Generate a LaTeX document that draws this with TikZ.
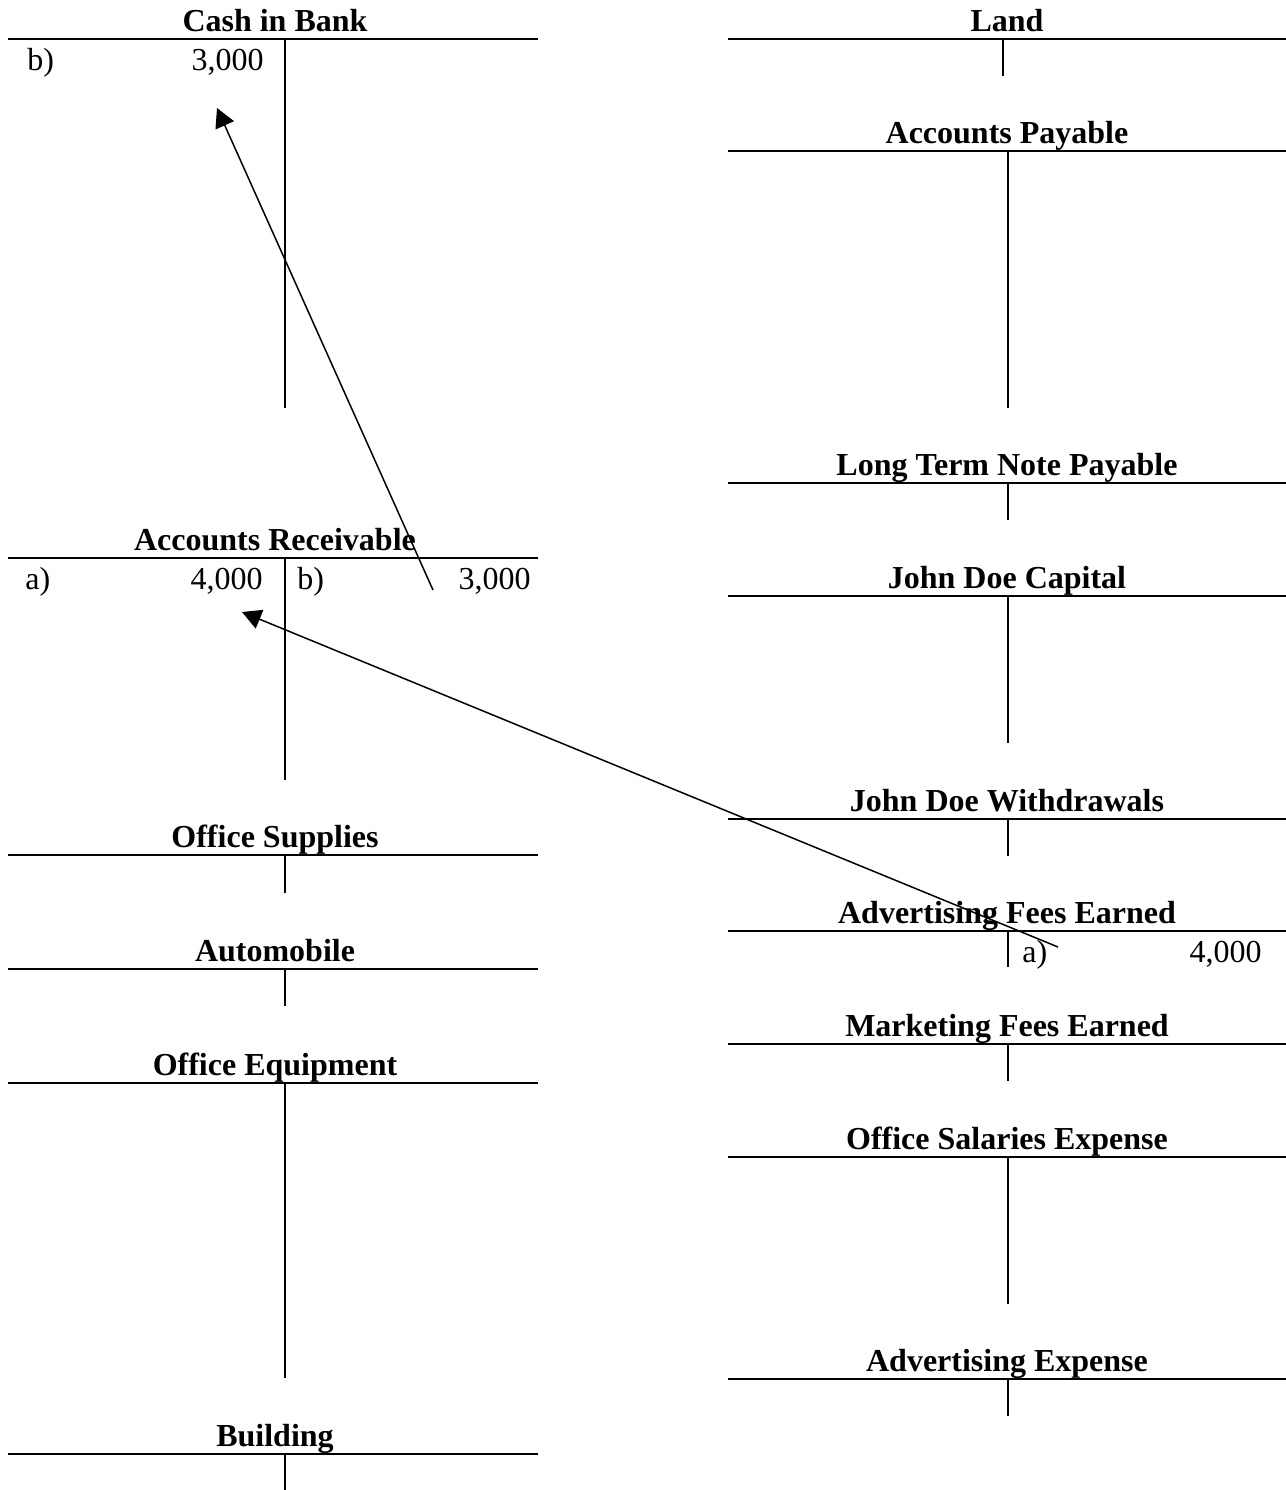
\documentclass[tikz,border=0pt]{standalone}
\usepackage{fontspec}
\setmainfont{Liberation Serif}
\usetikzlibrary{arrows.meta}
\tikzset{
  ttitle/.style={anchor=base, font=\bfseries\fontsize{16}{19}\selectfont, inner sep=0pt},
  entryL/.style={anchor=base west, font=\fontsize{16}{19}\selectfont, inner sep=0pt},
  entryR/.style={anchor=base east, font=\fontsize{16}{19}\selectfont, inner sep=0pt},
  tline/.style={line width=1pt},
  post/.style={line width=0.75pt, -{Triangle[length=9.5pt,width=10pt]}}
}
% #1 name, #2 x left, #3 x right, #4 x of stem, #5 y of line, #6 y of stem end, #7 title x, #8 title
\newcommand\tacct[8]{%
  \node[ttitle] (#1) at (#7,{#5-8}) {#8};
  \draw[tline] (#2,#5) -- (#3,#5);
  \draw[tline] (#4,#5) -- (#4,#6);
}
\begin{document}
\begin{tikzpicture}[x=0.5pt,y=-0.5pt]
\useasboundingbox (0,0) rectangle (1286,1490);
% left column
\tacct{cash}{8}{538}{285}{39}{408}{275}{Cash in Bank}
\tacct{ar}{8}{538}{285}{558}{780}{275}{Accounts Receivable}
\tacct{supp}{8}{538}{285}{855}{893}{275}{Office Supplies}
\tacct{auto}{8}{538}{285}{969}{1006}{275}{Automobile}
\tacct{equip}{8}{538}{285}{1083}{1378}{275}{Office Equipment}
\tacct{bldg}{8}{538}{285}{1454}{1490}{275}{Building}
% right column
\tacct{land}{728}{1286}{1003}{39}{76}{1007}{Land}
\tacct{ap}{728}{1286}{1008}{151}{408}{1007}{Accounts Payable}
\tacct{ltnp}{728}{1286}{1008}{483}{520}{1007}{Long Term Note Payable}
\tacct{cap}{728}{1286}{1008}{596}{743}{1007}{John Doe Capital}
\tacct{wd}{728}{1286}{1008}{819}{856}{1007}{John Doe Withdrawals}
\tacct{afe}{728}{1286}{1008}{931}{967}{1007}{Advertising Fees Earned}
\tacct{mfe}{728}{1286}{1008}{1044}{1081}{1007}{Marketing Fees Earned}
\tacct{ose}{728}{1286}{1008}{1157}{1304}{1007}{Office Salaries Expense}
\tacct{ae}{728}{1286}{1008}{1379}{1416}{1007}{Advertising Expense}
% entries
\node[entryL] (cashbl) at (27,70) {b)};
\node[entryR] (cashbv) at (264,70) {3,000};
\node[entryL] (aral) at (25,589) {a)};
\node[entryR] (arav) at (263,589) {4,000};
\node[entryL] (arbl) at (297,589) {b)};
\node[entryR] (arbv) at (531,589) {3,000};
\node[entryL] (afeal) at (1022,962) {a)};
\node[entryR] (afeav) at (1262,962) {4,000};
% postings
\coordinate (p1s) at (433,590);
\coordinate (p1e) at (217,108);
\coordinate (p2s) at (1058,947);
\coordinate (p2e) at (242,612);
\draw[post] (p1s) -- (p1e);
\draw[post] (p2s) -- (p2e);
\end{tikzpicture}
\end{document}
